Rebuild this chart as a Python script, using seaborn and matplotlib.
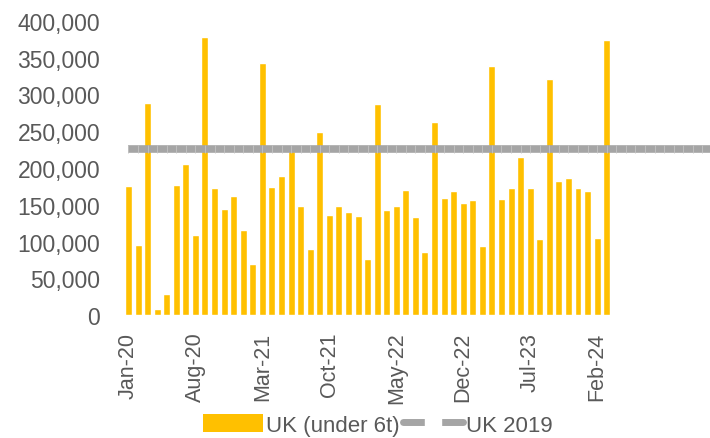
import numpy as np
import pandas as pd
import matplotlib
matplotlib.use("Agg")
import matplotlib.pyplot as plt
from matplotlib.patches import Patch
from matplotlib.lines import Line2D
import seaborn as sns

# monthly registrations, Jan-20 .. Mar-24
months = pd.date_range("2020-01-01", periods=51, freq="MS").strftime("%b-%y").tolist()
uk_under_6t = [175500, 95000, 288000, 8000, 28500, 177000, 205500, 109000, 378000, 173000,
               144000, 162000, 115500, 69500, 343000, 174000, 189000, 223000, 148000, 90000,
               249000, 136000, 148000, 140000, 135000, 76000, 287000, 143000, 148000, 170000,
               133000, 85500, 262500, 159000, 169000, 152500, 156500, 94000, 339000, 158000,
               173000, 215000, 173000, 103500, 321000, 182000, 186500, 173000, 169000, 105000,
               374000]
uk_2019 = 226000
n_axis = 64  # axis runs on past the last bar (and past the figure edge)

sns.set_style("white")
plt.rcParams["font.family"] = ["Liberation Sans", "DejaVu Sans"]
grey_txt = "#595959"

fig = plt.figure(figsize=(7.1, 4.39), dpi=100)
ax = fig.add_axes([0.1742, 0.280, 0.8258, 0.670])

df = pd.DataFrame({"month": months, "value": uk_under_6t})
sns.barplot(data=df, x="month", y="value", color="#ffc000", saturation=1,
            width=0.73, ax=ax)

xs = np.arange(n_axis)
ax.plot(xs, [uk_2019] * n_axis, color="#a5a5a5", lw=5.5, solid_capstyle="butt",
        marker="|", markersize=5.5, mec="#c4c4c4", mew=0.6, zorder=3,
        clip_on=True)

ax.set_xlim(-0.5, 60.8)
ax.set_ylim(0, 400000)
ax.set_yticks(range(0, 400001, 50000))
ax.set_yticklabels([f"{v:,}" for v in range(0, 400001, 50000)])
ticks = list(range(0, len(months), 7))
ax.set_xticks(ticks)
ax.set_xticklabels([months[i] for i in ticks], rotation=90)
ax.tick_params(axis="both", colors=grey_txt, length=0)
ax.tick_params(axis="x", pad=12, labelsize=15.5)
ax.tick_params(axis="y", pad=17, labelsize=16.5)
ax.set_xlabel("")
ax.set_ylabel("")
for s in ax.spines.values():
    s.set_visible(False)

handles = [Patch(facecolor="#ffc000", edgecolor="none"),
           Line2D([0], [0], color="#a5a5a5", lw=5, marker="s", markersize=11,
                  mfc="white", mec="white")]
fig.legend(handles, ["UK (under 6t)", "UK 2019"], loc="lower center",
           bbox_to_anchor=(0.532, -0.04), ncol=2, frameon=False, fontsize=16,
           labelcolor=grey_txt, handlelength=2.7, handleheight=0.85,
           handletextpad=0.15, columnspacing=0.15)

fig.savefig("out.png", dpi=100)
